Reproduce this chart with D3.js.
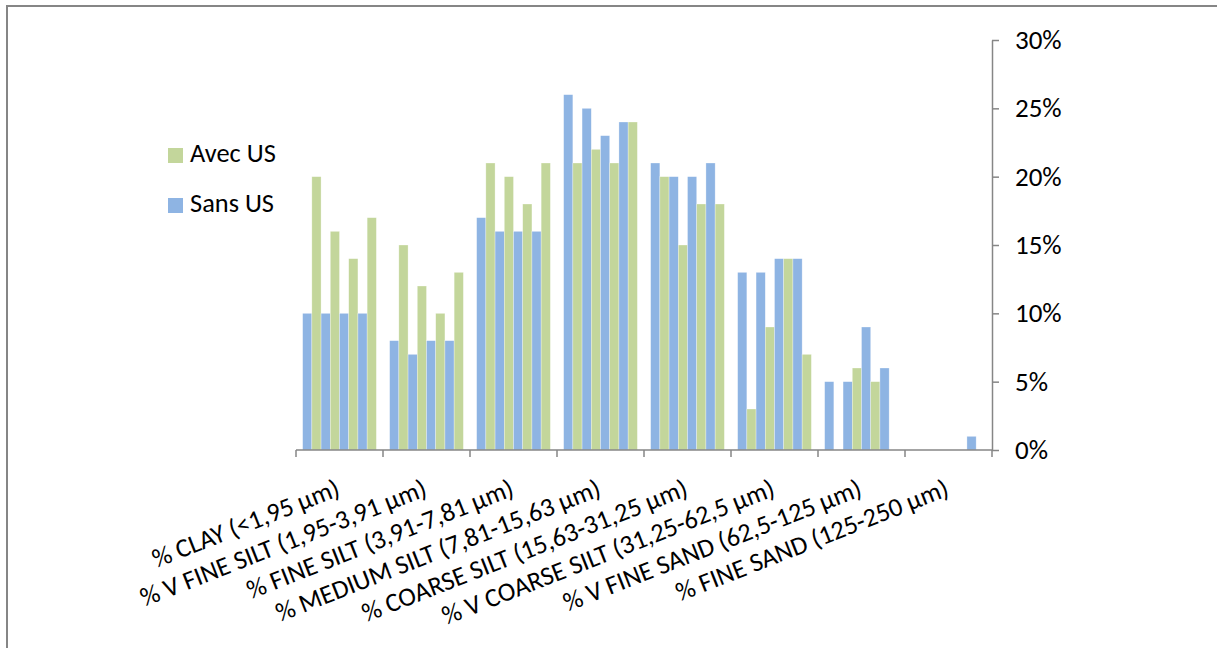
<!DOCTYPE html>
<html>
<head>
<meta charset="utf-8">
<script src="https://cdn.jsdelivr.net/npm/d3@7"></script>
<style>
  html, body { margin: 0; padding: 0; background: #fff; }
  svg { display: block; }
  text { font-family: Carlito, Lato, "Open Sans", sans-serif; fill: #000; }
</style>
</head>
<body>
<svg id="chart" width="1217" height="648"></svg>
<script>
// ---- data ----
const categories = [
  "% CLAY (<1,95 µm)",
  "% V FINE SILT (1,95-3,91 µm)",
  "% FINE SILT (3,91-7,81 µm)",
  "% MEDIUM SILT (7,81-15,63 µm)",
  "% COARSE SILT (15,63-31,25 µm)",
  "% V COARSE SILT (31,25-62,5 µm)",
  "% V FINE SAND (62,5-125 µm)",
  "% FINE SAND (125-250 µm)"
];
// four replicates per category, in percent
const sansUS = [
  [10, 10, 10, 10],
  [8, 7, 8, 8],
  [17, 16, 16, 16],
  [26, 25, 23, 24],
  [21, 20, 20, 21],
  [13, 13, 14, 14],
  [5, 5, 9, 6],
  [0, 0, 0, 1]
];
const avecUS = [
  [20, 16, 14, 17],
  [15, 12, 10, 13],
  [21, 20, 18, 21],
  [21, 22, 21, 24],
  [20, 15, 18, 18],
  [3, 9, 14, 7],
  [0, 6, 5, 0],
  [0, 0, 0, 0]
];
const yTicks = [0, 5, 10, 15, 20, 25, 30];
const legendItems = ["Avec US", "Sans US"];

// ---- build ----
const colors = { "Sans US": "#8EB4E3", "Avec US": "#C3D69B" };
const seriesKeys = [];
for (let r = 0; r < 4; r++) { seriesKeys.push("s" + r); seriesKeys.push("a" + r); }

const rows = categories.map((c, i) => {
  const row = { category: c };
  for (let r = 0; r < 4; r++) {
    row["s" + r] = sansUS[i][r];
    row["a" + r] = avecUS[i][r];
  }
  return row;
});

const svg = d3.select("#chart");
const plotLeft = 296, plotRight = 992, plotTop = 40, plotBottom = 450;

// outer border
svg.append("rect")
  .attr("x", 7).attr("y", 6).attr("width", 1240).attr("height", 700)
  .attr("fill", "none").attr("stroke", "#868686").attr("stroke-width", 2);

const x0 = d3.scaleBand().domain(categories).range([plotLeft, plotRight]).padding(0);
const x1 = d3.scaleBand().domain(seriesKeys).range([0, x0.bandwidth()])
  .paddingInner(0).paddingOuter(0.72);
const y = d3.scaleLinear().domain([0, 30]).range([plotBottom, plotTop]);

// bars
const groups = svg.append("g").selectAll("g").data(rows).join("g")
  .attr("transform", d => `translate(${x0(d.category)},0)`);
groups.selectAll("rect")
  .data(d => seriesKeys.map(k => ({ key: k, value: d[k] })))
  .join("rect")
  .attr("x", d => x1(d.key))
  .attr("y", d => y(d.value))
  .attr("width", x1.bandwidth())
  .attr("height", d => plotBottom - y(d.value))
  .attr("fill", d => d.key[0] === "s" ? colors["Sans US"] : colors["Avec US"])
  .attr("stroke", "#ffffff").attr("stroke-opacity", 0.5).attr("stroke-width", 0.6);

// x axis line and ticks
const xAxisG = svg.append("g");
xAxisG.append("line")
  .attr("x1", plotLeft).attr("x2", plotRight).attr("y1", plotBottom).attr("y2", plotBottom)
  .attr("stroke", "#868686").attr("stroke-width", 1.5);
const boundaries = categories.map(c => x0(c)).concat([plotRight]);
xAxisG.selectAll(".xt").data(boundaries).join("line")
  .attr("x1", d => d).attr("x2", d => d)
  .attr("y1", plotBottom).attr("y2", plotBottom + 7)
  .attr("stroke", "#868686").attr("stroke-width", 1.5);

// x labels rotated
xAxisG.selectAll(".xl").data(categories).join("text")
  .attr("text-anchor", "end")
  .attr("font-size", 26.3)
  .attr("transform", d => `translate(${x0(d) + x0.bandwidth() / 2 + 2},${plotBottom + 45}) rotate(-21.5)`)
  .text(d => d);

// y axis on the right
const yAxis = d3.axisRight(y).tickValues(yTicks)
  .tickFormat(d => d + "%").tickSize(7).tickSizeOuter(0).tickPadding(16);
const yg = svg.append("g").attr("transform", `translate(${plotRight},0)`).call(yAxis);
yg.select(".domain").attr("stroke", "#868686").attr("stroke-width", 1.5);
yg.selectAll(".tick line").attr("stroke", "#868686").attr("stroke-width", 1.5);
yg.selectAll(".tick text").attr("font-size", 27)
  .attr("font-family", "Carlito, Lato, 'Open Sans', sans-serif").attr("fill", "#000");

// legend
const legend = svg.append("g");
legendItems.forEach((name, i) => {
  const ly = 148 + i * 50;
  legend.append("rect").attr("x", 168).attr("y", ly).attr("width", 15).attr("height", 15)
    .attr("fill", colors[name]);
  legend.append("text").attr("x", 190).attr("y", ly + 14).attr("font-size", 26.4).text(name);
});
</script>
</body>
</html>
